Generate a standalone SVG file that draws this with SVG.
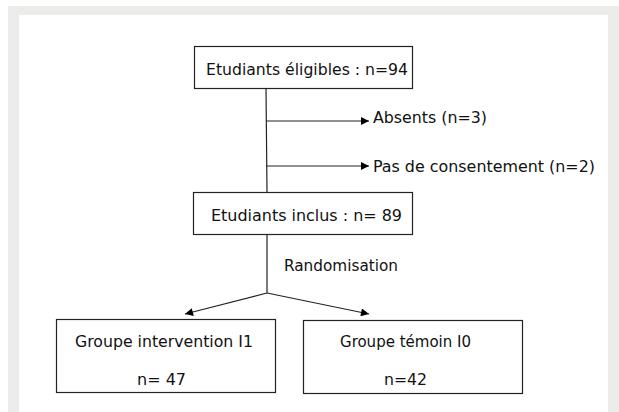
<svg xmlns="http://www.w3.org/2000/svg" width="619" height="412" viewBox="0 0 619 412">
<defs>
<marker id="arr" viewBox="0 0 10 10" refX="10" refY="5" markerWidth="10" markerHeight="8" markerUnits="userSpaceOnUse" orient="auto">
<path d="M0,0 L10,5 L0,10 z" fill="#000"/>
</marker>
<style>
.box{fill:#fff;stroke:#222;stroke-width:1.2}
.t{font-family:"DejaVu Sans Condensed","DejaVu Sans",sans-serif;font-size:15.5px;fill:#111}
.line{stroke:#222;stroke-width:1.2;fill:none}
</style>
</defs>
<rect x="0" y="0" width="619" height="412" fill="#fff"/>
<path d="M8,412 V6 H619 V412 H608 V15 H19 V412 Z" fill="#ECEDEB"/>
<g id="connectors">
<line class="line" x1="266" y1="88" x2="267" y2="192"/>
<line class="line" x1="266" y1="121" x2="369" y2="121" marker-end="url(#arr)"/>
<line class="line" x1="266" y1="166" x2="369" y2="166" marker-end="url(#arr)"/>
<line class="line" x1="267" y1="234" x2="267" y2="293"/>
<line class="line" x1="267" y1="293" x2="185" y2="314" marker-end="url(#arr)"/>
<line class="line" x1="267" y1="293" x2="369" y2="314" marker-end="url(#arr)"/>
<text class="t" x="284" y="271" textLength="114" lengthAdjust="spacingAndGlyphs">Randomisation</text>
</g>
<g id="eligibles">
<rect class="box" x="194.5" y="46.5" width="218" height="42"/>
<text class="t" x="206" y="75" textLength="202" lengthAdjust="spacingAndGlyphs">Etudiants éligibles : n=94</text>
</g>
<g id="absents">
<text class="t" x="373" y="123" textLength="114" lengthAdjust="spacingAndGlyphs">Absents (n=3)</text>
</g>
<g id="consentement">
<text class="t" x="373" y="172" textLength="222" lengthAdjust="spacingAndGlyphs">Pas de consentement (n=2)</text>
</g>
<g id="inclus">
<rect class="box" x="193.5" y="192.5" width="219" height="42"/>
<text class="t" x="211" y="221" textLength="191" lengthAdjust="spacingAndGlyphs">Etudiants inclus : n= 89</text>
</g>
<g id="intervention">
<rect class="box" x="56.5" y="319.5" width="219" height="73"/>
<text class="t" x="75" y="347" textLength="178" lengthAdjust="spacingAndGlyphs">Groupe intervention I1</text>
<text class="t" x="137" y="385" textLength="49" lengthAdjust="spacingAndGlyphs">n= 47</text>
</g>
<g id="temoin">
<rect class="box" x="303.5" y="320.5" width="219" height="73"/>
<text class="t" x="340" y="347" textLength="131" lengthAdjust="spacingAndGlyphs">Groupe témoin  I0</text>
<text class="t" x="384" y="385" textLength="43" lengthAdjust="spacingAndGlyphs">n=42</text>
</g>
</svg>
